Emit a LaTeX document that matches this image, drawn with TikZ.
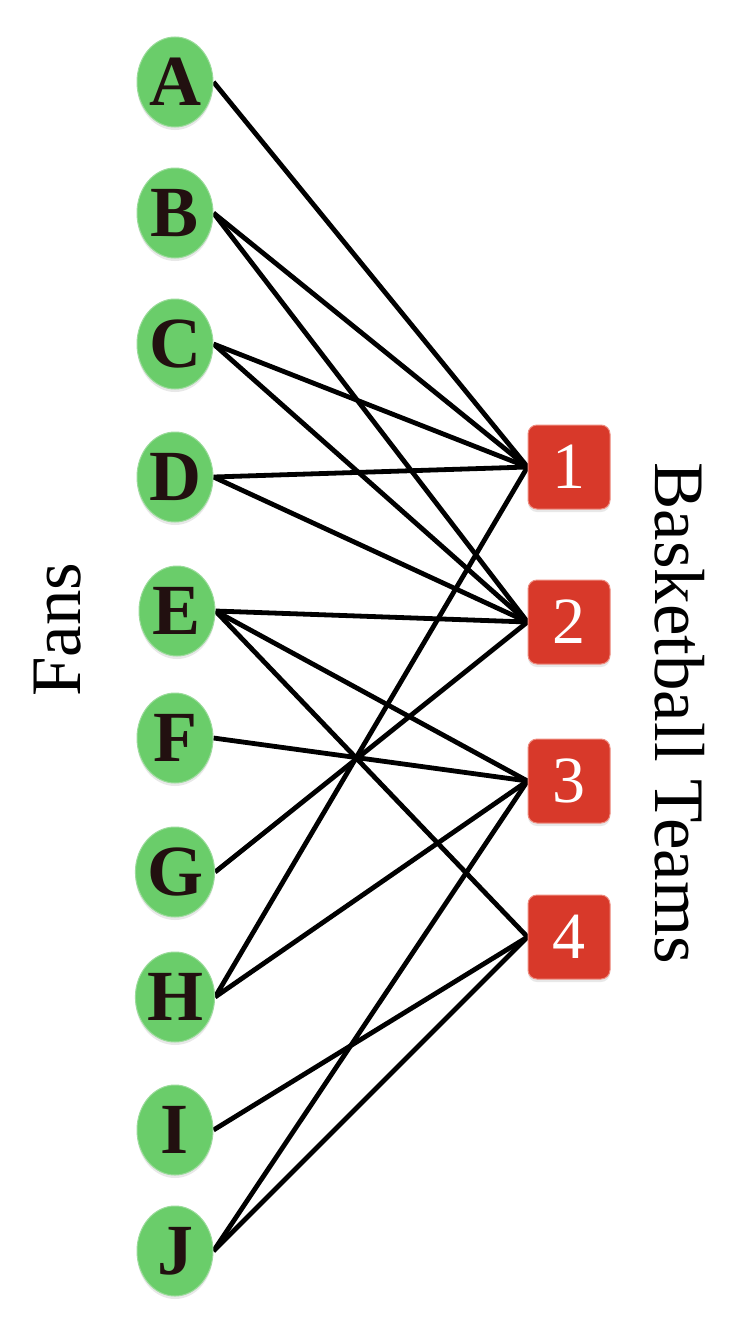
\documentclass[tikz,border=0pt]{standalone}
\usepackage{fontspec}
\setmainfont{Liberation Serif}
\usetikzlibrary{shapes.geometric,backgrounds,shadows}
\definecolor{fangreen}{HTML}{6ACD6A}
\definecolor{fanedge}{HTML}{9ADB9A}
\definecolor{teamred}{HTML}{D8392A}
\definecolor{teamedge}{HTML}{EE8C80}
\definecolor{letterink}{HTML}{221010}
\tikzset{
  fan/.style={ellipse, fill=fangreen, draw=fanedge, line width=1pt,
    minimum width=76pt, minimum height=90pt, inner sep=0pt,
    text=letterink, font=\fontsize{72}{72}\selectfont\bfseries,
    drop shadow={opacity=0.18, shadow xshift=0pt, shadow yshift=-3pt}},
  team/.style={rectangle, rounded corners=9pt, fill=teamred, draw=teamedge, line width=1pt,
    minimum width=82pt, minimum height=84pt, inner sep=0pt,
    text=white, font=\fontsize{66}{66}\selectfont,
    drop shadow={opacity=0.18, shadow xshift=0pt, shadow yshift=-3pt}},
  link/.style={draw=black, line width=4.8pt},
  biglabel/.style={font=\fontsize{71}{71}\selectfont, inner sep=0pt}
}
\begin{document}
\begin{tikzpicture}[x=1pt,y=-1pt]
\useasboundingbox (0,0) rectangle (740,1330);
% fans
\node[fan] (A) at (175,82) {A};
\node[fan] (B) at (175,213) {B};
\node[fan] (C) at (175,344) {C};
\node[fan] (D) at (175,477) {D};
\node[fan] (E) at (177,611) {E};
\node[fan] (F) at (175,738) {F};
\node[fan] (G) at (175,872) {G};
\node[fan] (H) at (175,997) {H};
\node[fan] (I) at (175,1130) {I};
\node[fan] (J) at (175,1251) {J};
% teams
\node[team] (t1) at (569,467) {1};
\node[team] (t2) at (569,622) {2};
\node[team] (t3) at (569,781) {3};
\node[team] (t4) at (569,937) {4};
% labels
\node[biglabel, rotate=90, anchor=base west] (fans) at (80,697) {Fans};
\node[biglabel, rotate=-90, anchor=base west] (teams) at (655,462) {Basketball Teams};
\begin{scope}[on background layer]
\fill[white] (0,0) rectangle (740,1330);
\draw[link] (A.east) -- (t1.west);
\draw[link] (B.east) -- (t1.west);
\draw[link] (B.east) -- (t2.west);
\draw[link] (C.east) -- (t1.west);
\draw[link] (C.east) -- (t2.west);
\draw[link] (D.east) -- (t1.west);
\draw[link] (D.east) -- (t2.west);
\draw[link] (E.east) -- (t2.west);
\draw[link] (E.east) -- (t3.west);
\draw[link] (E.east) -- (t4.west);
\draw[link] (F.east) -- (t3.west);
\draw[link] (G.east) -- (t2.west);
\draw[link] (H.east) -- (t1.west);
\draw[link] (H.east) -- (t3.west);
\draw[link] (I.east) -- (t4.west);
\draw[link] (J.east) -- (t3.west);
\draw[link] (J.east) -- (t4.west);
\end{scope}
\end{tikzpicture}
\end{document}
